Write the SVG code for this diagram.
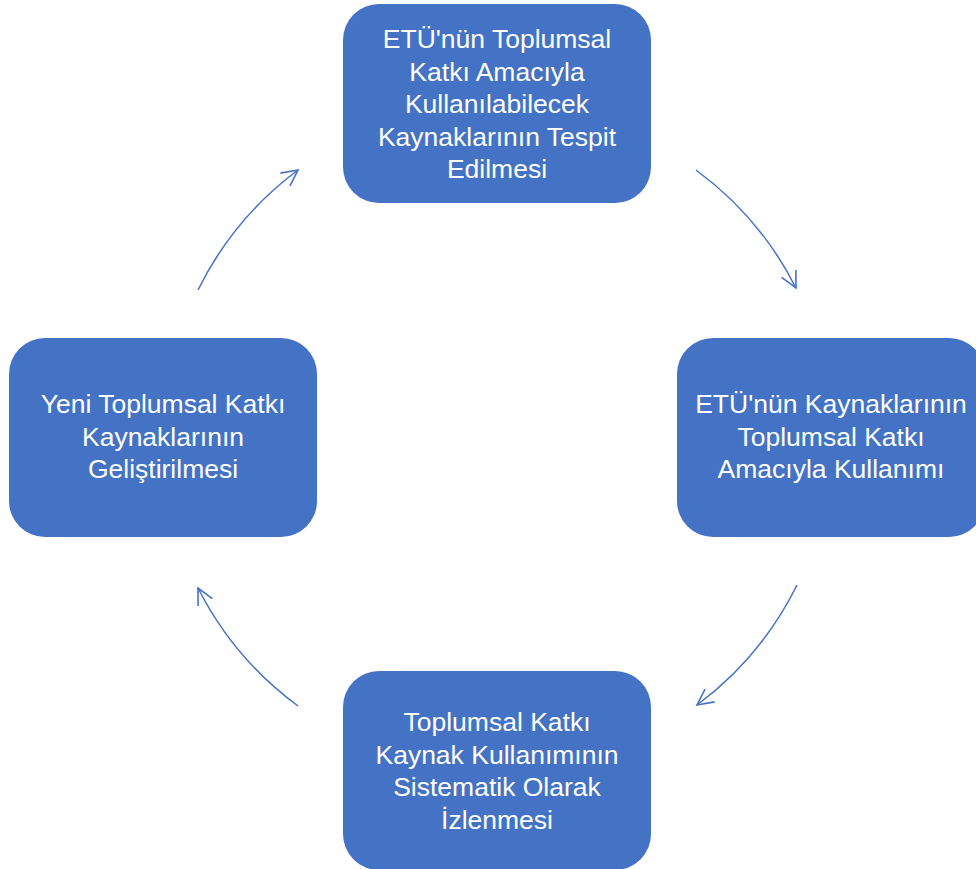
<svg xmlns="http://www.w3.org/2000/svg" width="976" height="869" viewBox="0 0 976 869">
<style>
.box{fill:#4472C4;}
.lbl{font-family:"Liberation Sans",Arial,sans-serif;font-size:26.5px;fill:#ffffff;text-anchor:middle;}
.arc{fill:none;stroke:#4472C4;stroke-width:1.5;marker-end:url(#ah);}
</style>
<defs>
<marker id="ah" markerUnits="userSpaceOnUse" markerWidth="24" markerHeight="24" viewBox="-20 -12 24 24" refX="0" refY="0" orient="auto">
<path d="M-16,-8 L0,0 L-16,8" fill="none" stroke="#4472C4" stroke-width="1.6"/>
</marker>
</defs>
<rect width="976" height="869" fill="#ffffff"/>
<g id="connectors">
<path class="arc" d="M696,170 A334,334 0 0 1 796,288"/>
<path class="arc" d="M797,585 A334,334 0 0 1 697,705"/>
<path class="arc" d="M298,706 A334,334 0 0 1 198,588"/>
<path class="arc" d="M198,290 A334,334 0 0 1 298,170"/>
</g>
<g id="n1">
<rect class="box" x="343" y="4" width="308" height="199" rx="36"/>
<text class="lbl" x="497" y="48">ETÜ'nün Toplumsal</text>
<text class="lbl" x="497" y="80.5">Katkı Amacıyla</text>
<text class="lbl" x="497" y="113">Kullanılabilecek</text>
<text class="lbl" x="497" y="145.5">Kaynaklarının Tespit</text>
<text class="lbl" x="497" y="178">Edilmesi</text>
</g>
<g id="n2">
<rect class="box" x="677" y="338" width="308" height="199" rx="36"/>
<text class="lbl" x="831" y="413">ETÜ'nün Kaynaklarının</text>
<text class="lbl" x="831" y="445.5">Toplumsal Katkı</text>
<text class="lbl" x="831" y="478">Amacıyla Kullanımı</text>
</g>
<g id="n3">
<rect class="box" x="343" y="671" width="308" height="199" rx="36"/>
<text class="lbl" x="497" y="731">Toplumsal Katkı</text>
<text class="lbl" x="497" y="763.5">Kaynak Kullanımının</text>
<text class="lbl" x="497" y="796">Sistematik Olarak</text>
<text class="lbl" x="497" y="828.5">İzlenmesi</text>
</g>
<g id="n4">
<rect class="box" x="9" y="338" width="308" height="199" rx="36"/>
<text class="lbl" x="163" y="413">Yeni Toplumsal Katkı</text>
<text class="lbl" x="163" y="445.5">Kaynaklarının</text>
<text class="lbl" x="163" y="478">Geliştirilmesi</text>
</g>
</svg>
